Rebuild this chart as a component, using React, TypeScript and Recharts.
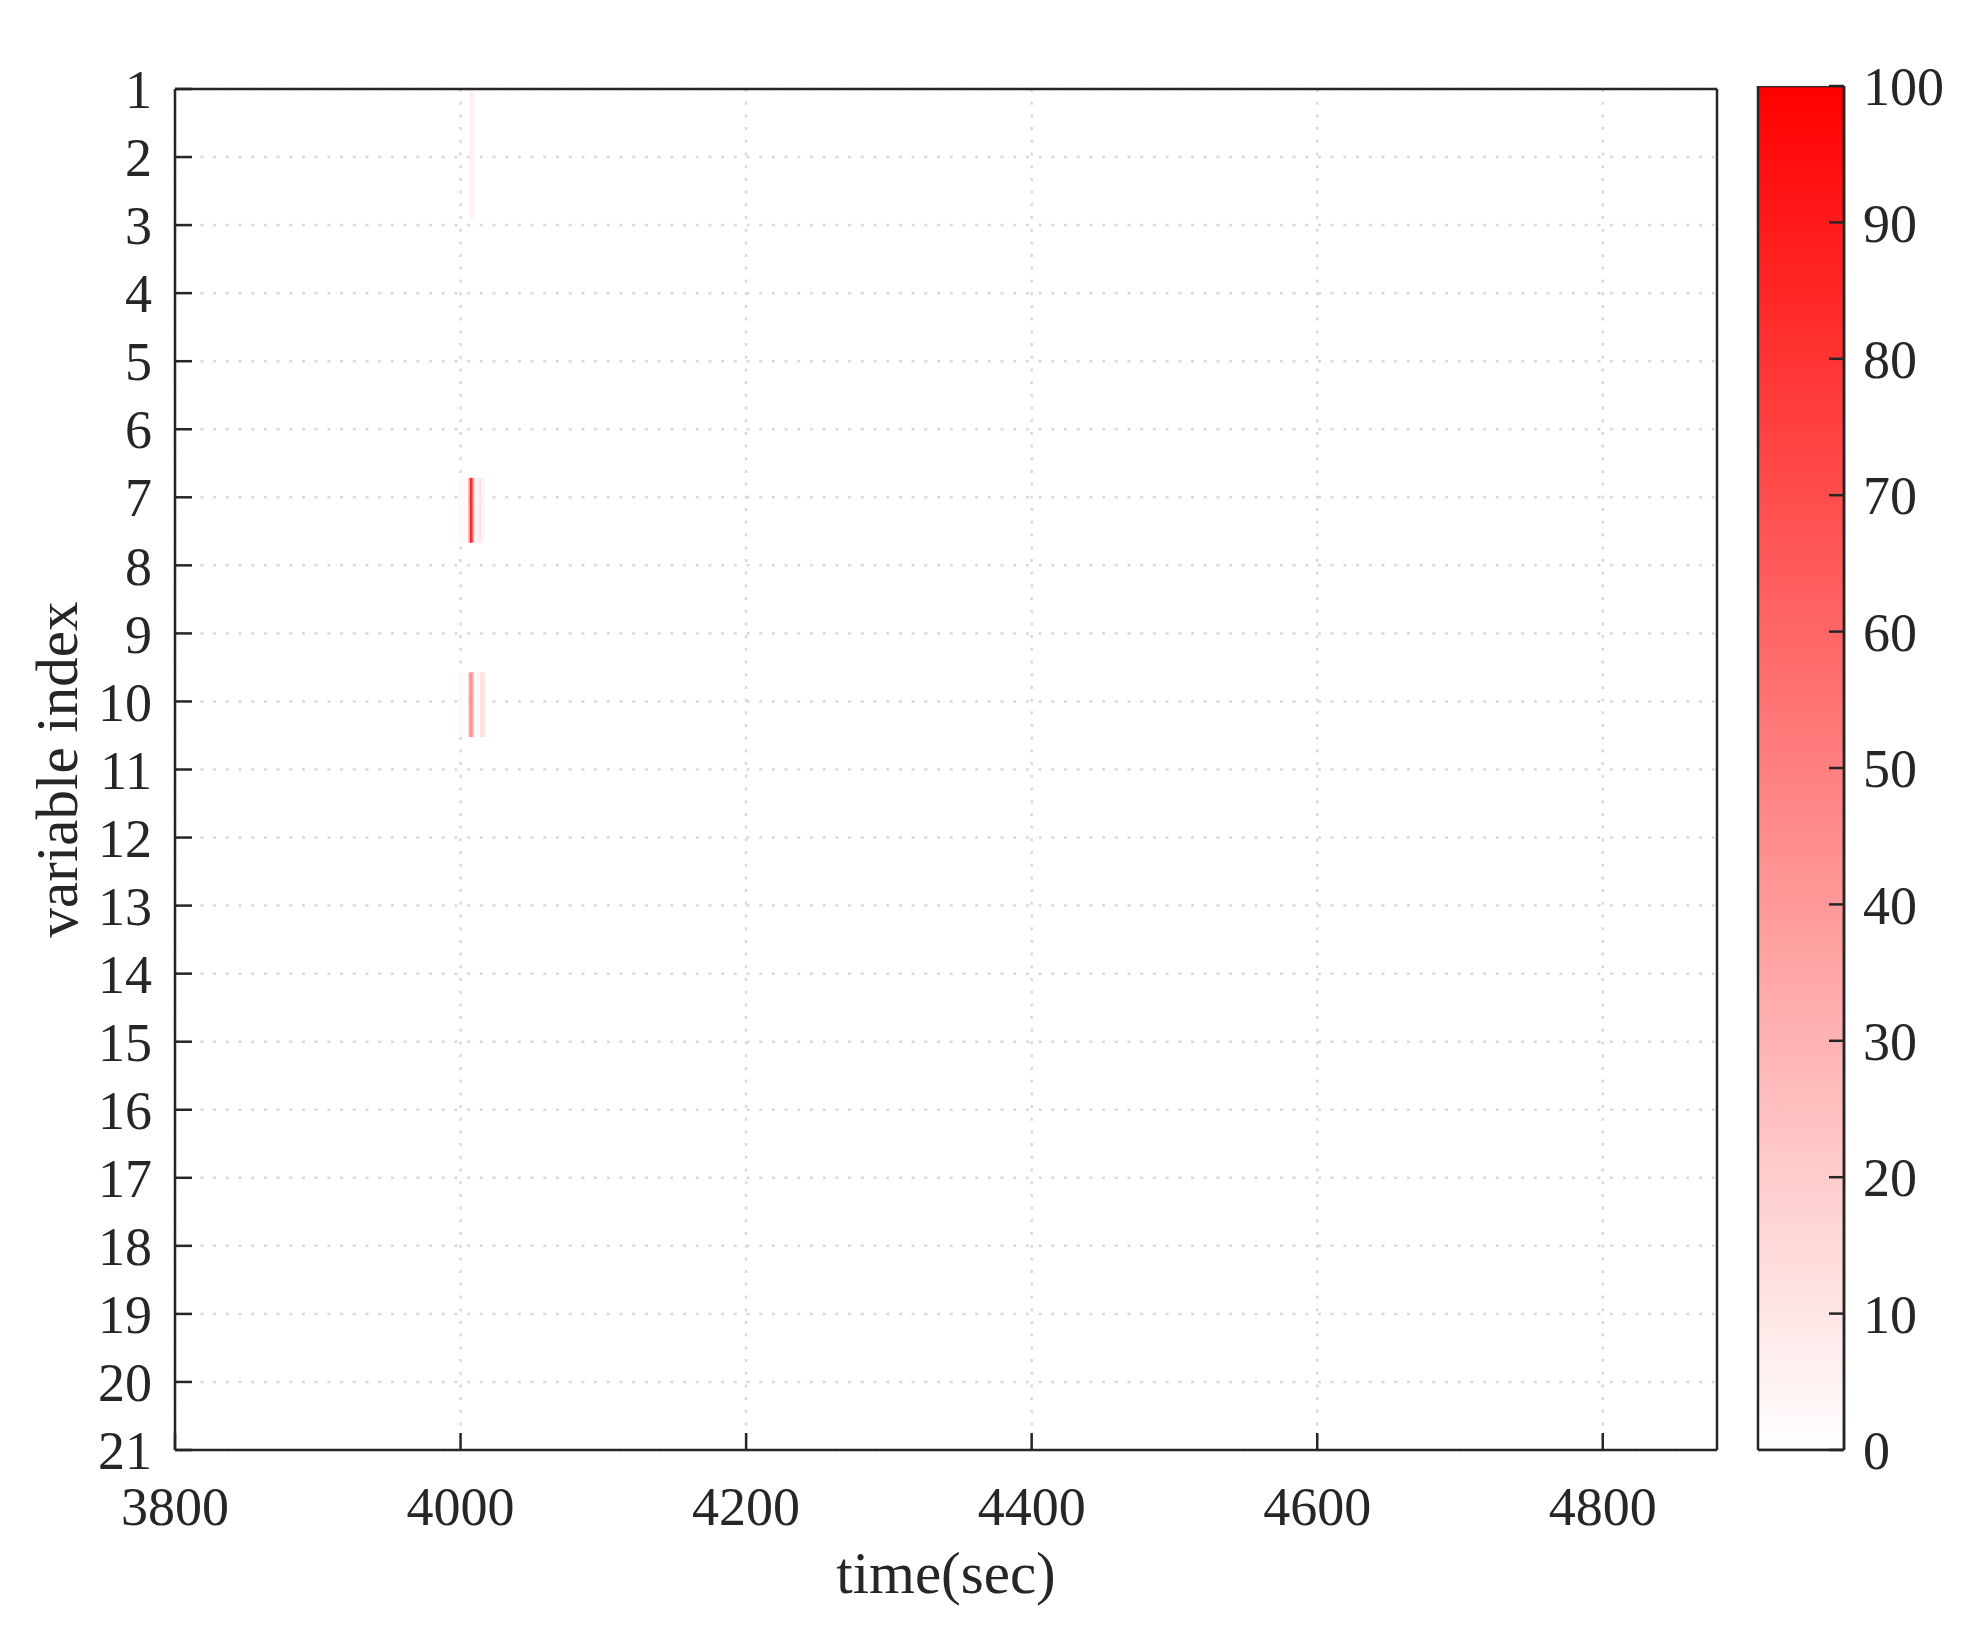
import React from "react";
import { ComposedChart, XAxis, YAxis, CartesianGrid, ReferenceArea, Bar } from "recharts";

// time columns (sec) of the only non-empty part of the map
const timeSteps = [
  3999, 4000, 4001, 4002, 4003, 4004, 4005, 4006, 4007, 4008, 4009, 4010, 4011,
  4012, 4013, 4014, 4015, 4016, 4017,
];

// contribution values (0-100) per variable, one per time step
const var1 = [0, 0, 0, 0, 0, 0, 0, 0, 7, 7, 5, 0, 0, 0, 0, 0, 0, 0, 0];
const var2 = [0, 0, 0, 0, 0, 0, 0, 0, 6, 7, 5, 0, 0, 0, 0, 0, 0, 0, 0];
const var7 = [3, 3, 2, 3, 3, 2, 3, 40, 88, 100, 35, 8, 5, 5, 10, 11, 4, 4, 3];
const var10 = [3, 3, 3, 2, 1, 1, 1, 30, 50, 48, 25, 3, 3, 3, 3, 12, 14, 12, 10];

const rows = [
  { index: 1, values: var1 },
  { index: 2, values: var2 },
  { index: 7, values: var7 },
  { index: 10, values: var10 },
];

const xTicks = [3800, 4000, 4200, 4400, 4600, 4800];
const yTicks = [1, 2, 3, 4, 5, 6, 7, 8, 9, 10, 11, 12, 13, 14, 15, 16, 17, 18, 19, 20, 21];
const colorTicks = [0, 10, 20, 30, 40, 50, 60, 70, 80, 90, 100];
const colorRange = [{ name: "scale", top: 100 }];

const FONT = '"Liberation Serif", "Times New Roman", serif';
const INK = "#262626";
const NROWS = 21;

const heat = (v: number) => {
  const g = Math.round(255 * (1 - v / 100));
  return `rgb(255,${g},${g})`;
};

const tickStyle = { fill: INK, fontSize: 54, fontFamily: FONT };

const XLabel = (props: any) => {
  const { viewBox } = props;
  return (
    <text
      x={viewBox.x + viewBox.width / 2}
      y={viewBox.y + 143}
      textAnchor="middle"
      fill={INK}
      fontSize={59}
      fontFamily={FONT}
    >
      time(sec)
    </text>
  );
};

const YLabel = (props: any) => {
  const { viewBox } = props;
  const cx = 77;
  const cy = viewBox.y + viewBox.height / 2;
  return (
    <text
      x={cx}
      y={cy}
      transform={`rotate(-90, ${cx}, ${cy})`}
      textAnchor="middle"
      fill={INK}
      fontSize={59}
      fontFamily={FONT}
    >
      variable index
    </text>
  );
};

function Heatmap() {
  const cellH = (NROWS - 1) / NROWS;
  return (
    <ComposedChart
      width={1977}
      height={1638}
      margin={{ top: 88, right: 259, bottom: 0, left: 0 }}
    >
      <CartesianGrid stroke="#d9d9d9" strokeWidth={2.5} strokeDasharray="3 9.7" />
      <XAxis
        type="number"
        dataKey="t"
        domain={[3800, 4880]}
        ticks={xTicks}
        allowDataOverflow
        height={188}
        stroke={INK}
        strokeWidth={2.5}
        tickSize={-17}
        tickMargin={54}
        tick={tickStyle}
        label={<XLabel />}
      />
      <XAxis
        xAxisId="top"
        orientation="top"
        type="number"
        domain={[3800, 4880]}
        ticks={xTicks}
        allowDataOverflow
        height={1}
        stroke={INK}
        strokeWidth={2.5}
        tickSize={-17}
        tick={false}
      />
      <YAxis
        type="number"
        domain={[1, 21]}
        ticks={yTicks}
        reversed
        allowDataOverflow
        width={175}
        stroke={INK}
        strokeWidth={2.5}
        tickSize={-17}
        tickMargin={40}
        tick={tickStyle}
        interval={0}
        label={<YLabel />}
      />
      <YAxis
        yAxisId="right"
        orientation="right"
        type="number"
        domain={[1, 21]}
        ticks={yTicks}
        reversed
        allowDataOverflow
        width={1}
        stroke={INK}
        strokeWidth={2.5}
        tickSize={-17}
        tick={false}
        interval={0}
      />
      {rows.map((row) =>
        row.values.map((v, i) =>
          v > 0 ? (
            <ReferenceArea
              key={`${row.index}-${i}`}
              x1={timeSteps[i] - 0.5}
              x2={timeSteps[i] + 0.5}
              y1={1 + (row.index - 1) * cellH}
              y2={1 + row.index * cellH}
              fill={heat(v)}
              fillOpacity={1}
              stroke="none"
            />
          ) : null
        )
      )}
    </ComposedChart>
  );
}

function ColorBar() {
  return (
    <ComposedChart
      width={277}
      height={1638}
      data={colorRange}
      barCategoryGap={0}
      barGap={0}
      margin={{ top: 86, right: 0, bottom: 187, left: 58 }}
    >
      <defs>
        <linearGradient id="cbar" x1="0" y1="1" x2="0" y2="0">
          <stop offset="0%" stopColor={heat(0)} />
          <stop offset="100%" stopColor={heat(100)} />
        </linearGradient>
      </defs>
      <Bar
        dataKey="top"
        fill="url(#cbar)"
        stroke={INK}
        strokeWidth={2.5}
        isAnimationActive={false}
      />
      <XAxis
        dataKey="name"
        type="category"
        height={1}
        tick={false}
        tickLine={false}
        stroke={INK}
        strokeWidth={2.5}
      />
      <YAxis
        orientation="right"
        type="number"
        domain={[0, 100]}
        ticks={colorTicks}
        allowDataOverflow
        interval={0}
        width={133}
        stroke={INK}
        strokeWidth={2.5}
        tickSize={-15}
        tickMargin={34}
        tick={{ ...tickStyle, textAnchor: "start" }}
      />
    </ComposedChart>
  );
}

export default function App() {
  return (
    <div style={{ position: "absolute", left: 0, top: 0, width: 1977, height: 1638, background: "#fff" }}>
      <Heatmap />
      <div style={{ position: "absolute", left: 1700, top: 0 }}>
        <ColorBar />
      </div>
    </div>
  );
}
